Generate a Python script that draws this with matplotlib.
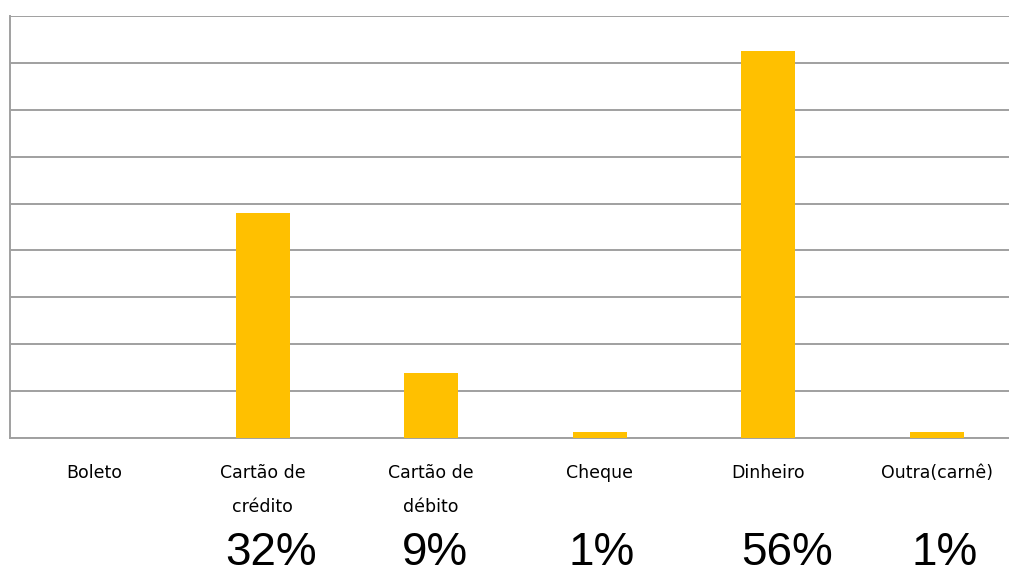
import matplotlib
matplotlib.use('Agg')
import matplotlib.pyplot as plt
import numpy as np

categorias = ['Boleto', 'Cartão de\ncrédito', 'Cartão de\ndébito', 'Cheque', 'Dinheiro', 'Outra(carnê)']
valores = [0, 32.5, 9.4, 0.9, 56.0, 0.9]
rotulos_pct = ['', '32%', '9%', '1%', '56%', '1%']
# deslocamento horizontal dos rótulos de porcentagem (não ficam centralizados)
desloc_pct = [0, 0.05, 0.02, 0.01, 0.11, 0.05]

fig = plt.figure(figsize=(10.09, 5.68), dpi=100)
ax = fig.add_axes([10 / 1009, 130 / 568, 1 - 10 / 1009, 422 / 568])

x = np.arange(len(categorias))
ax.bar(x, valores, width=0.32, color='#FFC000', zorder=3)

ymax = 61
ax.set_ylim(0, ymax)
ax.set_xlim(-0.5, 5.43)
ax.set_yticks(np.linspace(0, ymax, 10))
ax.set_yticklabels([])
ax.tick_params(axis='y', length=0)
ax.grid(axis='y', color='#a0a0a0', linewidth=1.4, zorder=0)

ax.set_xticks(x)
ax.set_xticklabels(categorias, fontsize=12.5, family='DejaVu Sans', va='top')
for lab in ax.get_xticklabels():
    lab.set_linespacing(2.1)
ax.tick_params(axis='x', length=0, pad=19)

for s in ['top', 'right']:
    ax.spines[s].set_visible(False)
for s in ['left', 'bottom']:
    ax.spines[s].set_color('#a0a0a0')
    ax.spines[s].set_linewidth(1.4)

for xi, r, d in zip(x, rotulos_pct, desloc_pct):
    ax.text(xi + d, -0.30, r, transform=ax.get_xaxis_transform(),
            ha='center', va='baseline', fontsize=33, family='Liberation Sans')

fig.savefig('out.png', dpi=100)
